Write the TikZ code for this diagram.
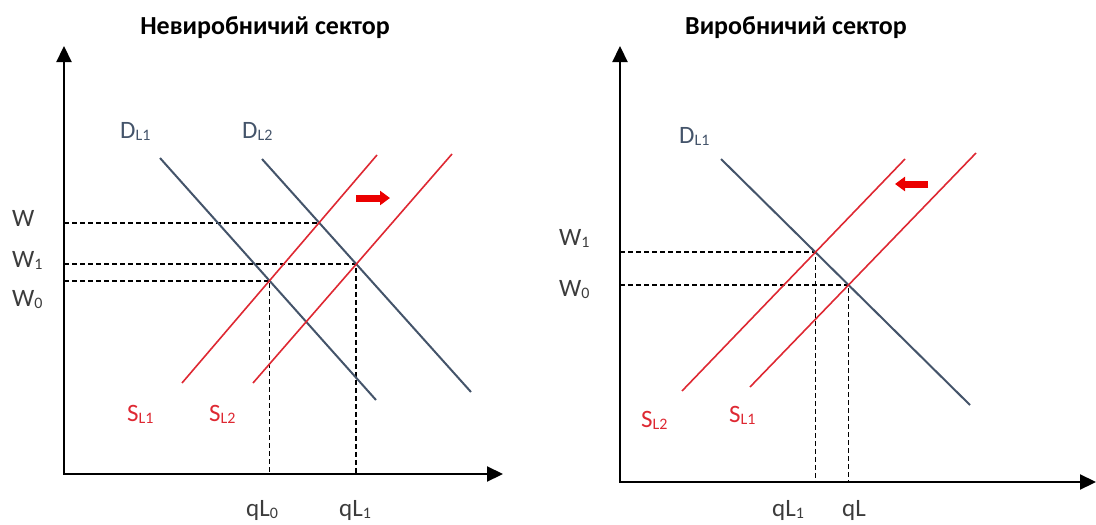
\documentclass[tikz,border=0pt]{standalone}
\usepackage{fontspec}
\setmainfont{Carlito}
\usetikzlibrary{calc,arrows.meta}
\definecolor{DemandBlue}{RGB}{68,84,106}
\definecolor{SupplyRed}{RGB}{222,40,50}
\definecolor{ShiftRed}{RGB}{235,0,0}
\definecolor{LabelGray}{RGB}{60,60,60}
\newcommand{\lsub}[1]{\raisebox{-0.1em}{\fontsize{16}{16}\selectfont #1}}

\begin{document}
\begin{tikzpicture}[x=1pt,y=-1pt]
	\tikzstyle{axis} = [line width=2.2pt, {Triangle[length=16pt,width=15pt]}-{Triangle[length=16pt,width=15pt]}]
	\tikzstyle{demand} = [line width=2pt, draw=DemandBlue]
	\tikzstyle{supply} = [line width=1.6pt, draw=SupplyRed]
	\tikzstyle{guide} = [line width=1.7pt, dash pattern=on 5pt off 3pt]
	\tikzstyle{shiftarrow} = [line width=7pt, draw=ShiftRed, -{Triangle[length=10pt,width=14pt]}]
	\tikzstyle{title} = [font=\fontsize{26}{30}\selectfont\bfseries, inner sep=0pt, anchor=base]
	\tikzstyle{lbl} = [font=\fontsize{25}{29}\selectfont, inner sep=0pt, anchor=base west, text=LabelGray]
	\useasboundingbox (0,0) rectangle (1096,525);
	
	\node (ttlL) [title] at (265,34) {Невиробничий сектор};
	\node (ttlR) [title] at (796,34) {Виробничий сектор};
	
	\coordinate (oL) at (64,474);
	\coordinate (yL) at (64,46);
	\coordinate (xL) at (503,474);
	\coordinate (dl1a) at (160,158);
	\coordinate (dl1b) at (376,400);
	\coordinate (dl2a) at (262,159);
	\coordinate (dl2b) at (471,392);
	\coordinate (sl1a) at (182,383);
	\coordinate (sl1b) at (377,155);
	\coordinate (sl2a) at (253,383);
	\coordinate (sl2b) at (452,154);
	\coordinate (eW) at (intersection of dl2a--dl2b and sl1a--sl1b);
	\coordinate (eW1) at (intersection of dl2a--dl2b and sl2a--sl2b);
	\coordinate (eW0) at (intersection of dl1a--dl1b and sl1a--sl1b);
	\coordinate (shL1) at (356,198);
	\coordinate (shL2) at (390,198);
	
	\draw [guide] (oL |- eW) -- (eW);
	\draw [guide] (oL |- eW1) -- (eW1) -- (eW1 |- oL);
	\draw [guide] (oL |- eW0) -- (eW0) -- (eW0 |- oL);
	\draw [demand] (dl1a) -- (dl1b);
	\draw [demand] (dl2a) -- (dl2b);
	\draw [supply] (sl1a) -- (sl1b);
	\draw [supply] (sl2a) -- (sl2b);
	\draw [shiftarrow] (shL1) -- (shL2);
	\draw [axis] (yL) -- (oL) -- (xL);
	
	\node (wL) [lbl] at (12,226) {W};
	\node (w1L) [lbl] at (12,267) {W\lsub{1}};
	\node (w0L) [lbl] at (12,306) {W\lsub{0}};
	\node (dl1L) [lbl, text=DemandBlue] at (120,138) {D\lsub{L1}};
	\node (dl2L) [lbl, text=DemandBlue] at (242,138) {D\lsub{L2}};
	\node (sl1L) [lbl, text=SupplyRed] at (127,421) {S\lsub{L1}};
	\node (sl2L) [lbl, text=SupplyRed] at (209,421) {S\lsub{L2}};
	\node (q0L) [lbl] at (246,516) {qL\lsub{0}};
	\node (q1L) [lbl] at (339,516) {qL\lsub{1}};
	
	\coordinate (oR) at (620,482);
	\coordinate (yR) at (620,46);
	\coordinate (xR) at (1096,482);
	\coordinate (rd1a) at (721,159);
	\coordinate (rd1b) at (970,405);
	\coordinate (rs2a) at (682,391);
	\coordinate (rs2b) at (905,159);
	\coordinate (rs1a) at (750,387);
	\coordinate (rs1b) at (976,153);
	\coordinate (fW1) at (intersection of rd1a--rd1b and rs2a--rs2b);
	\coordinate (fW0) at (intersection of rd1a--rd1b and rs1a--rs1b);
	\coordinate (shR1) at (928,184);
	\coordinate (shR2) at (895,184);
	
	\draw [guide] (oR |- fW1) -- (fW1) -- (fW1 |- oR);
	\draw [guide] (oR |- fW0) -- (fW0) -- (fW0 |- oR);
	\draw [demand] (rd1a) -- (rd1b);
	\draw [supply] (rs2a) -- (rs2b);
	\draw [supply] (rs1a) -- (rs1b);
	\draw [shiftarrow] (shR1) -- (shR2);
	\draw [axis] (yR) -- (oR) -- (xR);
	
	\node (w1R) [lbl] at (559,245) {W\lsub{1}};
	\node (w0R) [lbl] at (559,296) {W\lsub{0}};
	\node (dr1L) [lbl, text=DemandBlue] at (679,143) {D\lsub{L1}};
	\node (sr2L) [lbl, text=SupplyRed] at (641,427) {S\lsub{L2}};
	\node (sr1L) [lbl, text=SupplyRed] at (729,422) {S\lsub{L1}};
	\node (q1R) [lbl] at (772,516) {qL\lsub{1}};
	\node (qR) [lbl] at (842,516) {qL};
\end{tikzpicture}
\end{document}
